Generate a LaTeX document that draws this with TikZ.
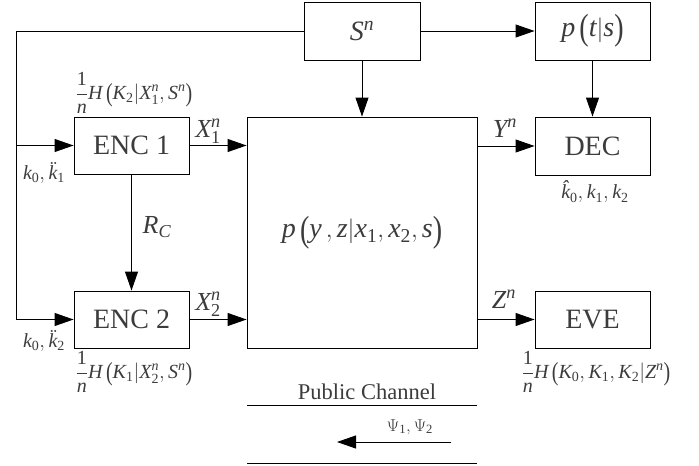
\documentclass[tikz,border=0pt]{standalone}
\usepackage{amsmath}
\usepackage{graphicx}
\usepackage{fontspec}
\setmainfont{Liberation Serif}
\usetikzlibrary{arrows.meta}
\definecolor{txt}{HTML}{3C3C3C}
\newcommand{\vi}[1]{\text{\itshape #1}}
\newcommand{\vu}[1]{\text{#1}}
\newcommand{\fr}{\dfrac{\vu{1}}{\vi{n}}}
\newcommand{\lp}{\,\raisebox{-0.12em}{\scalebox{1}[1.3]{\text{(}}}}
\newcommand{\rp}{\raisebox{-0.12em}{\scalebox{1}[1.3]{\text{)}}}}
\begin{document}
\begin{tikzpicture}[x=1pt,y=-1pt,
  box/.style={draw=black, line width=0.9pt, inner sep=0pt, text=txt, font=\fontsize{28}{30}\selectfont},
  con/.style={line width=0.9pt},
  arr/.style={con, -{Triangle[length=19pt,width=13pt]}},
  lab/.style={text=txt, inner sep=0pt, font=\fontsize{26}{28}\selectfont},
  slab/.style={text=txt, inner sep=0pt, font=\fontsize{20}{22}\selectfont}]
\useasboundingbox (0,0) rectangle (699,466);
% boxes
\node[box, minimum width=116pt, minimum height=58pt] (S) at (362,31) {$\vi{S}^{\vi{n}}$};
\node[box, minimum width=115pt, minimum height=58pt] (P) at (592.5,31) {$\vi{p}\lp\vi{t}|\vi{s}\rp$};
\node[box, minimum width=230pt, minimum height=231pt] (ch) at (362,232.5) {$\vi{p}\lp\vi{y}\,,\vi{z}|\vi{x}_{\vu{1}},\vi{x}_{\vu{2}},\vi{s}\rp$};
\node[box, minimum width=115pt, minimum height=58pt] (dec) at (592.5,146) {DEC};
\node[box, minimum width=115pt, minimum height=57pt] (eve) at (592.5,319.5) {EVE};
\node[box, minimum width=115pt, minimum height=57pt] (enc1) at (131.5,145.5) {ENC 1};
\node[box, minimum width=115pt, minimum height=57pt] (enc2) at (131.5,319.5) {ENC 2};
% coordinates
\coordinate (Ltop) at (16,31);
\coordinate (Lmid) at (16,145.5);
\coordinate (Lbot) at (16,319.5);
% connectors
\draw[arr] (S.west) -- (Ltop) -- (Lbot) -- (enc2.west);
\draw[arr] (Lmid) -- (enc1.west);
\draw[arr] (S.east) -- (P.west);
\draw[arr] (S.south) -- (ch.north);
\draw[arr] (P.south) -- (dec.north);
\draw[arr] (enc1.east) -- (enc1.east -| ch.west);
\draw[arr] (enc2.east) -- (enc2.east -| ch.west);
\draw[arr] (dec.west -| ch.east) -- (dec.west);
\draw[arr] (eve.west -| ch.east) -- (eve.west);
\draw[arr] (enc1.south) -- (enc2.north);
% public channel
\coordinate (pc1) at (247,405);
\coordinate (pc2) at (477,405);
\coordinate (pc3) at (247,463);
\coordinate (pc4) at (477,463);
\coordinate (a1) at (451,442);
\coordinate (a2) at (337,442);
\draw[con] (pc1) -- (pc2);
\draw[con] (pc3) -- (pc4);
\draw[arr] (a1) -- (a2);
\node[text=txt, font=\fontsize{22.5}{24}\selectfont, inner sep=0pt] (pub) at (367,392) {Public Channel};
\node[slab, font=\fontsize{18}{20}\selectfont] (psi) at (410,427) {$\Psi_{\vu{1}},\Psi_{\vu{2}}$};
% labels
\node[lab] (x1) at (208,131) {$\vi{X}_{\vu{1}}^{\vi{n}}$};
\node[lab] (x2) at (208,304) {$\vi{X}_{\vu{2}}^{\vi{n}}$};
\node[lab] (yn) at (505,128) {$\vi{Y}^{\vi{n}}$};
\node[lab] (zn) at (504,299) {$\vi{Z}^{\vi{n}}$};
\node[lab] (rc) at (157,227) {$\vi{R}_{\vi{C}}$};
\node[slab] (k1) at (44,173) {$\vi{k}_{\vu{0}},\vi{\"k}_{\vu{1}}$};
\node[slab] (k2) at (44,341) {$\vi{k}_{\vu{0}},\vi{\"k}_{\vu{2}}$};
\node[slab] (kh) at (595,192) {$\vi{\^k}_{\vu{0}},\vi{k}_{\vu{1}},\vi{k}_{\vu{2}}$};
\node[slab] (h1) at (134,93) {$\fr\vi{H}\lp\vi{K}_{\vu{2}}|\vi{X}_{\vu{1}}^{\vi{n}},\vi{S}^{\vi{n}}\rp$};
\node[slab] (h2) at (134,372) {$\fr\vi{H}\lp\vi{K}_{\vu{1}}|\vi{X}_{\vu{2}}^{\vi{n}},\vi{S}^{\vi{n}}\rp$};
\node[slab] (h3) at (596,372) {$\fr\vi{H}\lp\vi{K}_{\vu{0}},\vi{K}_{\vu{1}},\vi{K}_{\vu{2}}|\vi{Z}^{\vi{n}}\rp$};
\end{tikzpicture}
\end{document}
